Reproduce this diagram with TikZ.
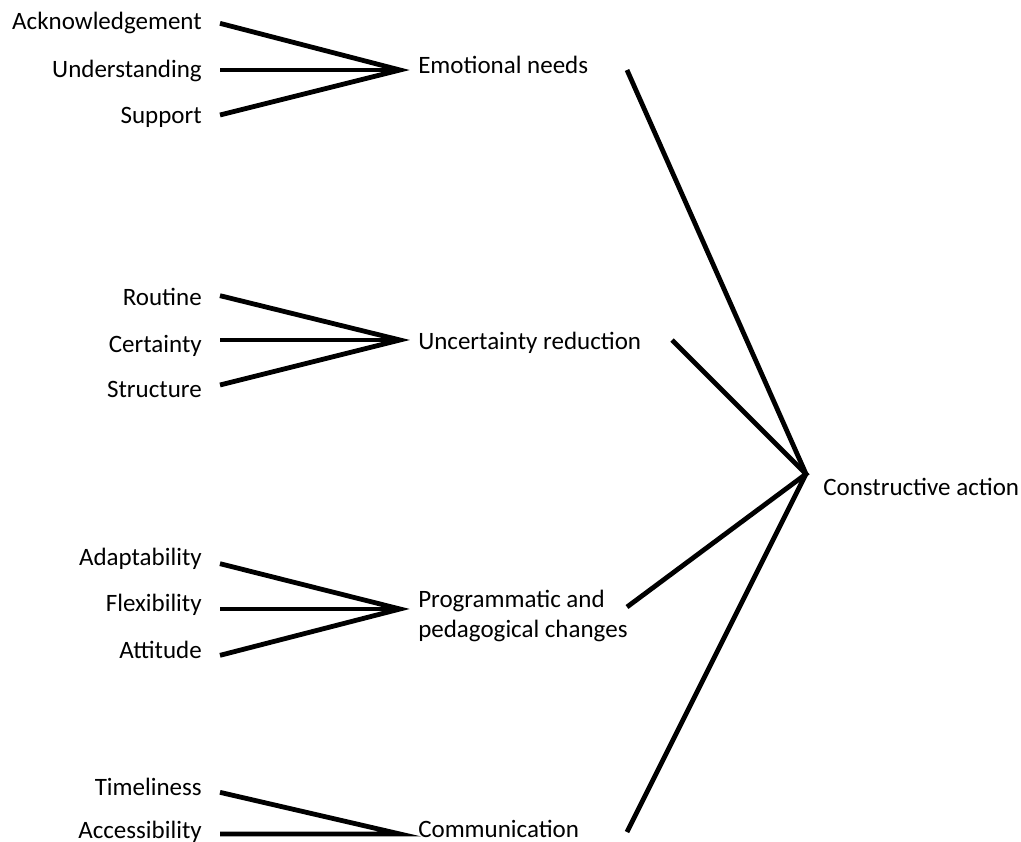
\documentclass[tikz,border=0pt]{standalone}
\usepackage{fontspec}
\setmainfont{Carlito}
\usetikzlibrary{positioning}

\tikzset{
  item/.style={anchor=east, inner xsep=13.5pt, inner ysep=0pt,
    text height=12pt, text depth=0pt, font=\fontsize{18.75}{22.5}\selectfont},
  need/.style={item, anchor=west, align=left},
  link/.style={line width=3.6pt}
}

\begin{document}
\begin{tikzpicture}[x=0.75pt,y=-0.75pt]
  \useasboundingbox (0,0) rectangle (1021,842);

  % emotional needs
  \coordinate (j-emo) at (400,70);
  \node[need] (emo) at (400,66) {Emotional needs};
  \node[item] (ack) at (220,22) {Acknowledgement};
  \node[item] (und) at (220,70) {Understanding};
  \node[item] (sup) at (220,115) {Support};
  \coordinate (emo-out) at (627,70);

  % uncertainty reduction
  \coordinate (j-unc) at (400,340);
  \node[need] (unc) at (400,341) {Uncertainty reduction};
  \node[item] (rou) at (220,297) {Routine};
  \node[item] (cer) at (220,344) {Certainty};
  \node[item] (str) at (220,389) {Structure};
  \coordinate (unc-out) at (672,340);

  % programmatic and pedagogical changes
  \coordinate (j-prog) at (400,609);
  \node[need, text height=, text depth=] (prog) at (400,616) {Programmatic and\\pedagogical changes};
  \node[item] (ada) at (220,557) {Adaptability};
  \node[item] (fle) at (220,603) {Flexibility};
  \node[item] (att) at (220,650) {Attitude};
  \coordinate (prog-out) at (627,607);

  % communication
  \coordinate (j-com) at (400,834);
  \node[need] (com) at (400,829) {Communication};
  \node[item] (tim) at (220,787) {Timeliness};
  \node[item] (acc) at (220,834) {\raisebox{3pt}{Accessibility}};
  \coordinate (com-out) at (627,832);

  % constructive action
  \coordinate (hub) at (806,474);
  \node[need, inner xsep=12.75pt] (act) at (806,487) {Constructive action};

  \draw[link] ([yshift=-1pt]ack.east) -- (j-emo) -- (sup.east);
  \draw[link] (und.east) -- (j-emo);
  \draw[link] ([yshift=1pt]rou.east) -- (j-unc) -- ([yshift=3pt]str.east);
  \draw[link] ([yshift=3pt]cer.east) -- (j-unc);
  \draw[link] ([yshift=-5pt]ada.east) -- (j-prog) -- ([yshift=-4pt]att.east);
  \draw[link] ([yshift=-4.5pt]fle.east) -- (j-prog);
  \draw[link] ([yshift=-4pt]tim.east) -- (j-com) -- (acc.east);

  \draw[link] (emo-out) -- (hub) -- (com-out);
  \draw[link] (unc-out) -- (hub) -- (prog-out);
\end{tikzpicture}
\end{document}
